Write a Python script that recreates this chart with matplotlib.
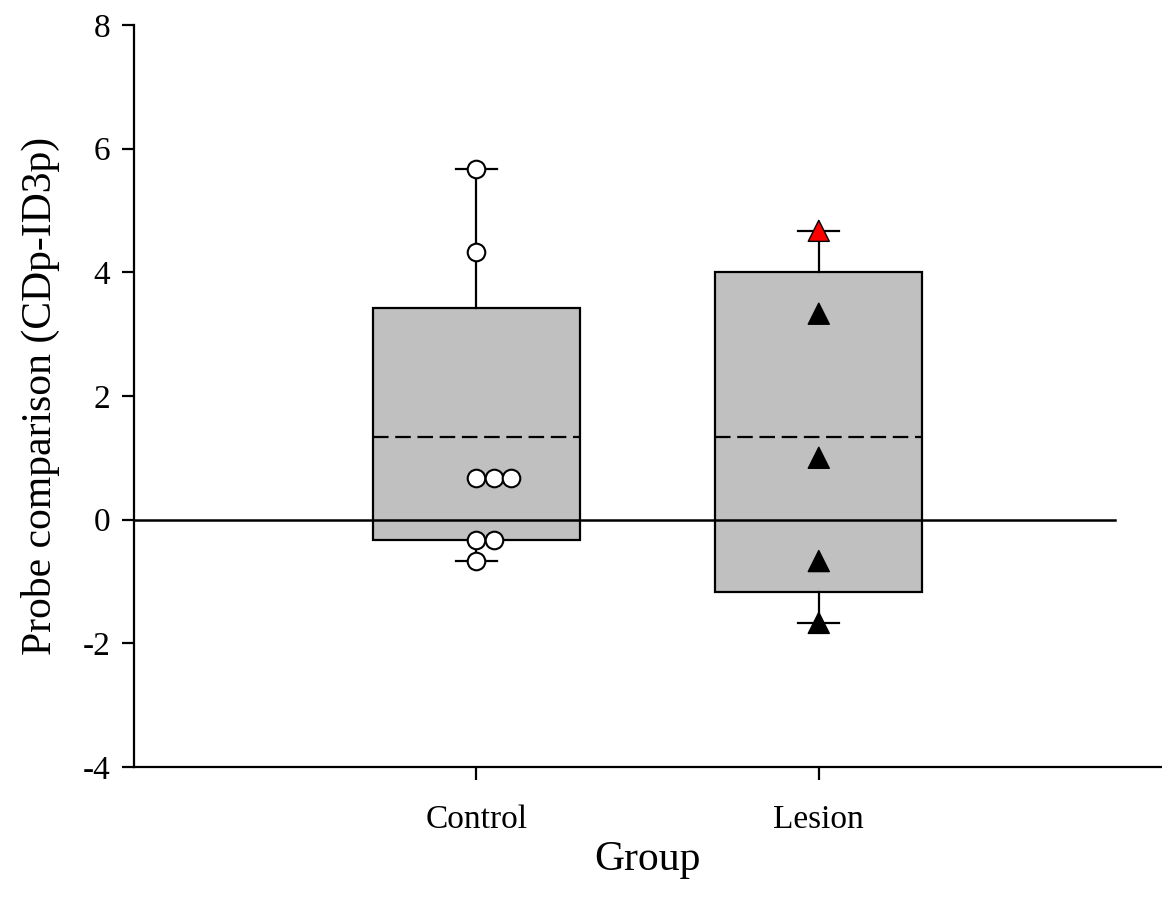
import numpy as np
import matplotlib.pyplot as plt

plt.rcParams['font.family'] = ['Liberation Serif', 'DejaVu Serif']
plt.rcParams['axes.unicode_minus'] = False

groups = ['Control', 'Lesion']
control = [5.67, 4.33, 0.67, 0.67, 0.67, -0.33, -0.33, -0.67]
lesion = [4.67, 3.33, 1.0, -0.67, -1.67]
lesion_colors = ['red', 'black', 'black', 'black', 'black']

fig = plt.figure(figsize=(11.62, 9.05), dpi=100)
ax = fig.add_axes([0.1153, 0.1525, 0.884, 0.82])

def stats(vals):
    v = np.array(vals)
    q1, q3 = np.percentile(v, [25, 75], method='weibull')
    lo, hi = np.percentile(v, [10, 90], method='weibull')
    return dict(med=np.nan, mean=v.mean(), q1=q1, q3=q3,
                whislo=max(lo, v.min()), whishi=min(hi, v.max()), fliers=[])

bx = ax.bxp([stats(control), stats(lesion)], positions=[1, 2], widths=0.605,
            patch_artist=True, showmeans=True, meanline=True, showcaps=True,
            boxprops=dict(facecolor='#c0c0c0', edgecolor='black', linewidth=1.6),
            whiskerprops=dict(color='black', linewidth=1.6),
            capprops=dict(color='black', linewidth=1.6),
            medianprops=dict(linewidth=0),
            meanprops=dict(color='black', linestyle=(0, (7, 3)), linewidth=1.6),
            capwidths=0.12, zorder=2)

ax.axhline(0, xmin=0, xmax=0.955, color='black', linewidth=1.8, zorder=3)

def offsets(vals, step=0.05):
    seen = {}
    out = []
    for v in vals:
        k = seen.get(v, 0)
        out.append(k * step)
        seen[v] = k + 1
    return np.array(out)

ax.scatter(1 + offsets(control), control, s=160, facecolor='white',
           edgecolor='black', linewidth=1.5, zorder=4)
ax.scatter(2 + offsets(lesion), lesion, s=230, marker='^', c=lesion_colors,
           edgecolor='black', linewidth=1.0, zorder=4)

ax.set_xlim(0, 3)
ax.set_ylim(-4, 8)
ax.set_yticks(range(-4, 9, 2))
ax.set_xticks([1, 2])
ax.set_xticklabels(groups)
ax.spines['top'].set_visible(False)
ax.spines['right'].set_visible(False)
for s in ['left', 'bottom']:
    ax.spines[s].set_linewidth(1.6)
ax.tick_params(direction='out', length=9, width=1.6, labelsize=24, pad=8)
ax.tick_params(axis='x', pad=18)
ax.set_xlabel('Group', fontsize=30, labelpad=4)
ax.set_ylabel('Probe comparison (CDp-ID3p)', fontsize=30, labelpad=16)

fig.savefig('out.png', dpi=100)
